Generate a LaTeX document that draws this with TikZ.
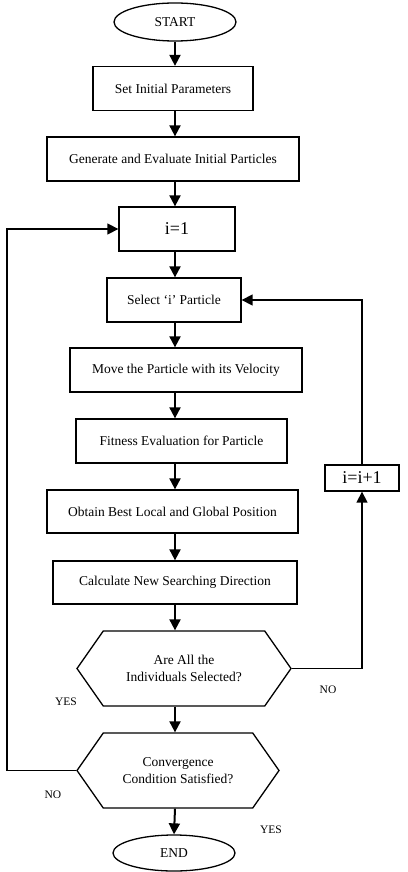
\documentclass[tikz,border=0pt]{standalone}
\usepackage{fontspec}
\setmainfont{Liberation Serif}
\usepackage{tikz}
\usetikzlibrary{arrows.meta, positioning, calc, shapes.geometric, shapes.symbols}

\tikzset{
    process/.style={draw, line width=1.3pt, minimum height=44pt, inner sep=0pt,
        font=\fontsize{13.5}{17}\selectfont},
    terminal/.style={draw, ellipse, line width=1.3pt, minimum width=122pt, minimum height=38pt,
        inner sep=0pt, font=\fontsize{13.5}{17}\selectfont},
    decision/.style={draw, shape=signal, signal to=east and west, signal pointer angle=110,
        line width=1.3pt, minimum height=75pt, inner sep=0pt, align=center,
        font=\fontsize{13.5}{17}\selectfont},
    counter/.style={process, font=\fontsize{18}{20}\selectfont},
    flow/.style={line width=2pt, -{Triangle[length=11pt,width=11pt]}},
    loopline/.style={line width=1.4pt, -{Triangle[length=11pt,width=11pt]}},
    answer/.style={font=\fontsize{11.5}{13}\selectfont}
}

\begin{document}
\begin{tikzpicture}[x=1pt, y=-1pt]
\useasboundingbox (0,0) rectangle (407,872);
% Main column
\node[terminal] (start) at (175,22) {START};
\node[process, minimum width=160pt] (init) at (173,88.5) {Set Initial Parameters};
\node[process, minimum width=252pt] (gen) at (173,159) {Generate and Evaluate Initial Particles};
\node[counter, minimum width=116pt] (ione) at (177,229) {i=1};
\node[process, minimum width=134pt] (sel) at (174,300) {Select `i' Particle};
\node[process, minimum width=232pt] (move) at (186,370) {Move the Particle with its Velocity};
\node[process, minimum width=211pt] (fit) at (181.5,441) {Fitness Evaluation for Particle};
\node[process, minimum width=251pt, minimum height=43pt] (best) at (172.5,511.5) {Obtain Best Local and Global Position};
\node[process, minimum width=244pt, minimum height=43pt] (dir) at (175,582.5) {Calculate New Searching Direction};
\node[decision, minimum width=214pt] (allsel) at (184,668.5) {Are All the\\Individuals Selected?};
\node[decision, minimum width=202pt] (conv) at (178,770.5) {Convergence\\Condition Satisfied?};
\node[terminal, minimum height=36pt] (stop) at (174,853) {END};
% Side box
\node[counter, minimum width=74pt, minimum height=26pt] (inc) at (362,478) {i=i+1};
% Straight arrows
\draw[flow] (start.south) -- (init.north -| start);
\draw[flow] (init.south -| start) -- (gen.north -| start);
\draw[flow] (gen.south -| start) -- (ione.north -| start);
\draw[flow] (ione.south -| start) -- (sel.north -| start);
\draw[flow] (sel.south -| start) -- (move.north -| start);
\draw[flow] (move.south -| start) -- (fit.north -| start);
\draw[flow] (fit.south -| start) -- (best.north -| start);
\draw[flow] (best.south -| start) -- (dir.north -| start);
\draw[flow] (dir.south -| start) -- (allsel.north -| start);
\draw[flow] (allsel.south -| start) -- (conv.north -| start);
\draw[flow] (conv.south -| start) -- (stop.north);
% Loops
\coordinate (leftrail) at (7,0);
\draw[loopline] (allsel.east) -| (inc.south);
\draw[loopline] (inc.north) |- (sel.east);
\draw[loopline] (conv.west) -- (conv.west -| leftrail) |- (ione.west);
% Answers
\node[answer] (yesa) at (66,702) {YES};
\node[answer] (noa) at (328,690) {NO};
\node[answer] (nob) at (53,795) {NO};
\node[answer] (yesb) at (271,830) {YES};
\end{tikzpicture}
\end{document}
